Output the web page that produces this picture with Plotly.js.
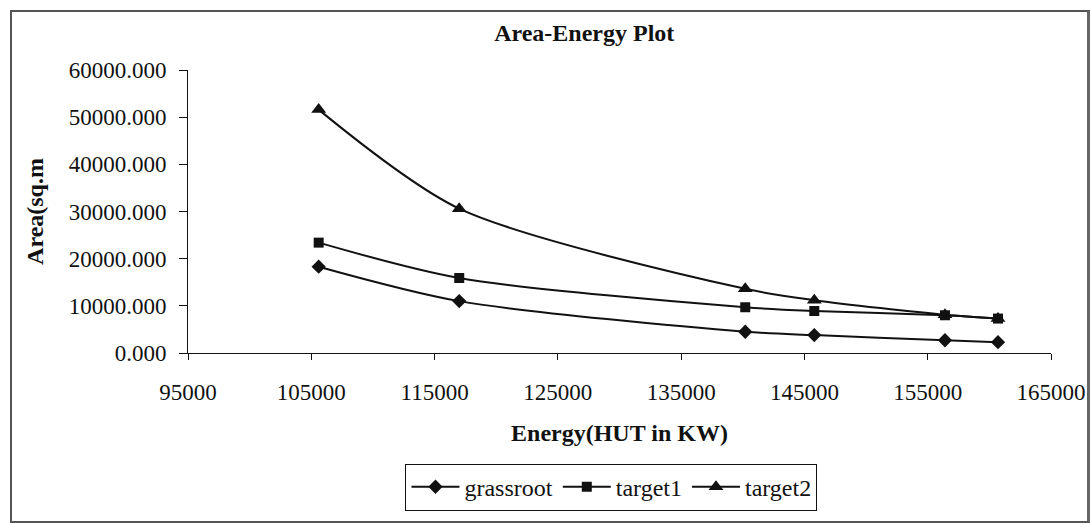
<!DOCTYPE html>
<html>
<head>
<meta charset="utf-8">
<script src="https://cdn.plot.ly/plotly-3.0.1.min.js"></script>
<style>
  html, body { margin: 0; padding: 0; background: #fff; }
  #wrap { position: relative; width: 1092px; height: 523px; overflow: hidden; }
  #frame { position: absolute; left: 10px; top: 10px; width: 1075px; height: 509px;
           border: 2px solid #555; border-right: 3px solid #666; box-sizing: content-box; }
  #chart { position: absolute; left: 0; top: 0; width: 1092px; height: 523px; }
</style>
</head>
<body>
<div id="wrap">
  <div id="frame"></div>
  <div id="chart"></div>
</div>
<script>
// Data
const energy = [105600, 117000, 140200, 145800, 156400, 160700];
const grassroot = [18300, 11000, 4500, 3800, 2700, 2300];
const target1 = [23400, 15900, 9700, 8900, 8000, 7300];
const target2 = [51600, 30600, 13600, 11200, 8100, 7300];
const seriesNames = ['grassroot', 'target1', 'target2'];
const xTicks = [95000, 105000, 115000, 125000, 135000, 145000, 155000, 165000];

const serif = 'Liberation Serif, Times New Roman, serif';

function trace(name, ys, symbol, size) {
  return {
    x: energy, y: ys, name: name, type: 'scatter', mode: 'lines+markers',
    line: { color: '#111', width: 2, shape: 'spline', smoothing: 0.8 },
    marker: { color: '#111', symbol: symbol, size: size }
  };
}

const data = [
  trace(seriesNames[0], grassroot, 'diamond', 11),
  trace(seriesNames[1], target1, 'square', 10),
  trace(seriesNames[2], target2, 'triangle-up', 13)
];

const layout = {
  width: 1092, height: 523,
  margin: { l: 188, r: 41, t: 70, b: 163 },
  paper_bgcolor: 'rgba(0,0,0,0)',
  plot_bgcolor: 'rgba(0,0,0,0)',
  font: { family: serif, color: '#111', size: 23 },
  showlegend: true,
  title: { text: '<b>Area-Energy Plot</b>', font: { family: serif, size: 24, color: '#111' },
           xref: 'container', x: 0.535, xanchor: 'center',
           yref: 'container', y: 0.937, yanchor: 'middle' },
  xaxis: {
    range: [95000, 165000], tickvals: xTicks,
    tickformat: 'd', showgrid: false, zeroline: false,
    showline: true, linecolor: '#111', linewidth: 1,
    ticks: 'outside', ticklen: 6, tickcolor: '#111',
    ticklabelstandoff: 12,
    tickfont: { family: serif, size: 23, color: '#111' },
    title: { text: '<b>Energy(HUT in KW)</b>', font: { family: serif, size: 24, color: '#111' }, standoff: 20 }
  },
  yaxis: {
    range: [0, 60000], dtick: 10000, tickformat: '.3f',
    showgrid: false, zeroline: false,
    showline: true, linecolor: '#111', linewidth: 1,
    ticks: 'outside', ticklen: 8, tickcolor: '#111',
    ticklabelstandoff: 8,
    tickfont: { family: serif, size: 23, color: '#111' },
    title: { text: '<b>Area(sq.m</b>', font: { family: serif, size: 24, color: '#111' }, standoff: 18 }
  },
  legend: {
    orientation: 'h', x: 0.4907, xanchor: 'center', y: -0.474, yanchor: 'middle',
    bordercolor: '#111', borderwidth: 1, bgcolor: '#fff',
    font: { family: serif, size: 24, color: '#111' },
    itemwidth: 48
  }
};

Plotly.newPlot('chart', data, layout, { displayModeBar: false, staticPlot: true });
</script>
</body>
</html>
